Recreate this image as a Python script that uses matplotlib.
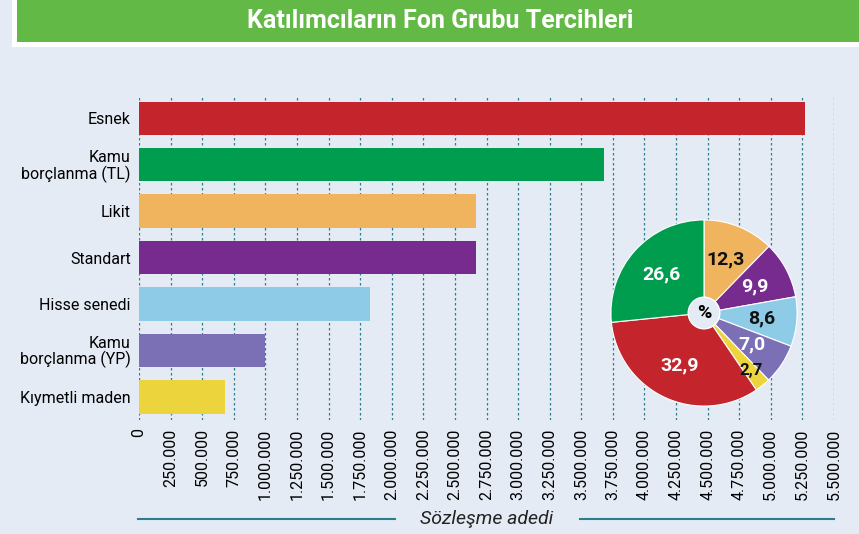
import matplotlib
matplotlib.use("Agg")
import matplotlib.pyplot as plt
from matplotlib.patches import Rectangle, Circle
import numpy as np

categories = ["Esnek", "Kamu\nborçlanma (TL)", "Likit", "Standart", "Hisse senedi", "Kamu\nborçlanma (YP)", "Kıymetli maden"]
values = [5270000, 3683000, 2667000, 2667000, 1825000, 1000000, 683000]
bar_colors = ["#c4242b", "#009d4f", "#f0b45e", "#772b8e", "#8ecbe6", "#7b70b5", "#ecd43c"]
ticks = list(range(0, 5500001, 250000))
tick_labels = ["0"] + [f"{t:,}".replace(",", ".") for t in ticks[1:]]

pie_vals = [12.3, 9.9, 8.6, 7.0, 2.7, 32.9, 26.6]
pie_colors = ["#f0b45e", "#772b8e", "#8ecbe6", "#7b70b5", "#ecd43c", "#c4242b", "#009d4f"]
pie_text_colors = ["#111", "white", "#111", "white", "#111", "white", "white"]

W, H = 859, 534
bg = "#e4ebf5"
fig = plt.figure(figsize=(W/100, H/100), dpi=100, facecolor=bg)
FONT = "Roboto"

# header
fig.patches.append(Rectangle((12/W, 1-47/H), 847/W, 47/H, transform=fig.transFigure, facecolor="white", edgecolor="none"))
fig.patches.append(Rectangle((17/W, 1-42/H), 842/W, 42/H, transform=fig.transFigure, facecolor="#62b946", edgecolor="none"))
fig.text(440/W, 1-21/H, "Katılımcıların Fon Grubu Tercihleri", ha="center", va="center",
         color="white", fontsize=18, fontweight="bold", family=FONT)

ax = fig.add_axes([139/W, 1-420/H, (834-139)/W, (420-95)/H])
ax.set_facecolor("none")
y = list(range(len(categories)))
ax.barh(y, values, height=0.72, color=bar_colors, zorder=2)
ax.set_ylim(len(categories)-0.5, -0.5)
ax.set_xlim(0, 5500000)
ax.set_xticks(ticks)
ax.set_xticklabels(tick_labels, rotation=90, fontsize=11.5, family=FONT)
ax.set_yticks(y)
ax.set_yticklabels(categories, fontsize=11.5, family=FONT, linespacing=1.0)
for t in ticks:
    ax.axvline(t, color="#2e7d8c", lw=0.9, ls=(0, (2, 2)), zorder=1)
for s in ax.spines.values():
    s.set_visible(False)
ax.tick_params(axis="both", length=0, pad=6)

# x label with lines
fig.lines.append(plt.Line2D([138/W, 395/W], [1-519/H]*2, transform=fig.transFigure, color="#2e7d8c", lw=1.5))
fig.lines.append(plt.Line2D([580/W, 834/W], [1-519/H]*2, transform=fig.transFigure, color="#2e7d8c", lw=1.5))
fig.text(487/W, 1-519/H, "Sözleşme adedi", ha="center", va="center", fontsize=14, style="italic", family=FONT, color="#222")

# pie
pax = fig.add_axes([610/W, 1-407/H, 188/W, 188/H])
wedges, _ = pax.pie(pie_vals, colors=pie_colors, startangle=90, counterclock=False, radius=1.0,
                    wedgeprops=dict(edgecolor="white", linewidth=0.8))
pax.set_xlim(-1.01, 1.01)
pax.set_ylim(-1.01, 1.01)
cum = np.cumsum([0] + pie_vals)
for i, v in enumerate(pie_vals):
    mid = 90 - (cum[i] + v/2) * 3.6
    r = 0.62 if v > 5 else 0.8
    pax.text(r*np.cos(np.radians(mid)), r*np.sin(np.radians(mid)), f"{v:.1f}".replace(".", ","),
             ha="center", va="center", fontsize=14 if v > 5 else 12, fontweight="bold",
             color=pie_text_colors[i], family=FONT)
pax.add_patch(Circle((0, 0), 0.17, facecolor=bg, edgecolor="white", lw=1, zorder=5))
pax.text(0, 0, "%", ha="center", va="center", fontsize=14, fontweight="bold", zorder=6, family=FONT)

fig.savefig("out.png", dpi=100, facecolor=bg)
